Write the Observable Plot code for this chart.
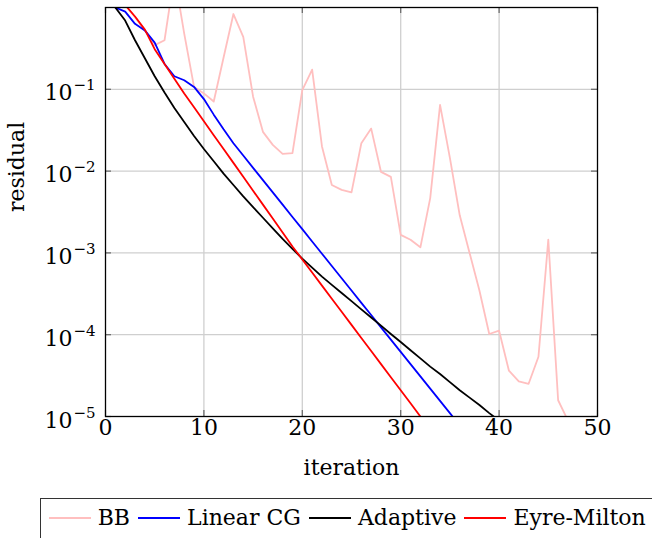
<!DOCTYPE html>
<html>
<head>
<meta charset="utf-8">
<script src="https://cdn.jsdelivr.net/npm/d3@7"></script>
<script src="https://cdn.jsdelivr.net/npm/@observablehq/plot@0.6"></script>
<style>
  html, body { margin: 0; padding: 0; background: #fff; }
  body { width: 652px; height: 538px; overflow: hidden; position: relative; font-family: "DejaVu Serif", serif; }
  #chart svg { display: block; }
  #legend { position: absolute; left: 40px; top: 498px; width: 680px; height: 70px; border: 1.3px solid #333;
            box-sizing: border-box; display: flex; align-items: flex-start; padding-left: 7.7px; padding-top: 8.1px; }
  .item { display: flex; align-items: flex-start; margin-right: 8px; }
  .sw { width: 42px; height: 2px; margin-top: 9.6px; margin-right: 7px; }
  .lb { font-family: "DejaVu Serif", serif; font-size: 22px; line-height: 22px; color: #000; white-space: nowrap; }
</style>
</head>
<body>
<div id="chart"></div>
<div id="legend"></div>
<script>
// ---- data ----
const seriesNames = ["BB", "Linear CG", "Adaptive", "Eyre-Milton"];
const seriesColors = ["#ffbfbf", "#0000ff", "#000000", "#ff0000"];

// residual per iteration, starting at iteration 1
const bbResidual = [1.778, 1.072, 0.759, 0.525, 0.347, 0.398, 2.51, 0.479, 0.107, 0.0891,
  0.0708, 0.245, 0.832, 0.437, 0.0813, 0.0302, 0.0209, 0.0162, 0.0166, 0.0977,
  0.174, 0.0200, 0.00676, 0.00589, 0.00550, 0.0219, 0.0331, 0.00977, 0.00851, 0.00166,
  0.00145, 0.00117, 0.00468, 0.0646, 0.0145, 0.00288, 0.00100, 3.47e-4, 1.02e-4, 1.12e-4,
  3.63e-5, 2.69e-5, 2.51e-5, 5.37e-5, 1.45e-3, 1.58e-5, 8.91e-6];

const cgResidual = [1.0, 0.891, 0.631, 0.525, 0.372, 0.204, 0.1445, 0.129, 0.107, 0.0759,
  0.0490, 0.0324, 0.0219, 0.0155, 0.01096, 0.00776, 0.00550, 0.00389, 0.00275, 0.00195,
  0.00138, 9.77e-4, 6.92e-4, 4.90e-4, 3.47e-4, 2.45e-4, 1.74e-4, 1.23e-4, 8.71e-5, 6.17e-5,
  4.37e-5, 3.09e-5, 2.19e-5, 1.55e-5, 1.10e-5, 7.76e-6];

const adaptiveResidual = [1.0, 0.692, 0.398, 0.240, 0.1445, 0.0912, 0.0589, 0.0398, 0.0269, 0.0186,
  0.0132, 0.00933, 0.00676, 0.00490, 0.00363, 0.00269, 0.00200, 0.00148, 0.00112, 8.51e-4,
  6.61e-4, 5.13e-4, 4.07e-4, 3.24e-4, 2.57e-4, 2.04e-4, 1.62e-4, 1.29e-4, 1.02e-4, 8.13e-5,
  6.46e-5, 5.13e-5, 4.07e-5, 3.31e-5, 2.63e-5, 2.09e-5, 1.70e-5, 1.38e-5, 1.10e-5, 8.91e-6];

const emResidual = [1.585, 1.072, 0.776, 0.537, 0.309, 0.204, 0.135, 0.0891, 0.0603, 0.0407,
  0.0275, 0.0186, 0.0126, 0.00851, 0.00575, 0.00389, 0.00263, 0.00178, 0.00120, 8.32e-4,
  5.75e-4, 3.98e-4, 2.75e-4, 1.91e-4, 1.32e-4, 9.12e-5, 6.31e-5, 4.37e-5, 3.02e-5, 2.09e-5,
  1.45e-5, 1.0e-5];

const xTickValues = [0, 10, 20, 30, 40, 50];
const xTickLabels = ["0", "10", "20", "30", "40", "50"];
const yTickValues = [1e-1, 1e-2, 1e-3, 1e-4, 1e-5];
const yTickExponents = ["\u22121", "\u22122", "\u22123", "\u22124", "\u22125"];
const xGridValues = [10, 20, 30, 40];
const yGridValues = [1e-1, 1e-2, 1e-3, 1e-4];

// ---- build table ----
const allSeries = [bbResidual, cgResidual, adaptiveResidual, emResidual];
const rows = allSeries.flatMap((vals, s) => vals.map((r, i) => ({series: seriesNames[s], it: i + 1, r})));

const frameW = 652 - 105 - 55;
const frameH = 490 - 7 - 74;
const tickLen = 6;
const FONT = "DejaVu Serif";

const lineMarks = seriesNames.map((name, s) =>
  Plot.line(rows.filter(d => d.series === name), {
    x: "it", y: "r", stroke: seriesColors[s], strokeWidth: 1.8, clip: true
  })
);

const chart = Plot.plot({
  width: 652,
  height: 490,
  marginLeft: 105,
  marginRight: 55,
  marginTop: 7,
  marginBottom: 74,
  x: {domain: [0, 50], axis: null},
  y: {type: "log", domain: [1e-5, 1], axis: null},
  style: {fontFamily: FONT, background: "white", color: "black"},
  marks: [
    Plot.ruleX(xGridValues, {stroke: "#cfcfcf", strokeWidth: 1.3}),
    Plot.ruleY(yGridValues, {stroke: "#cfcfcf", strokeWidth: 1.3}),
    // inward ticks on all four sides
    Plot.ruleX(xTickValues, {stroke: "#666", strokeWidth: 1.2, insetTop: frameH - tickLen}),
    Plot.ruleX(xTickValues, {stroke: "#666", strokeWidth: 1.2, insetBottom: frameH - tickLen}),
    Plot.ruleY(yTickValues, {stroke: "#666", strokeWidth: 1.2, insetRight: frameW - tickLen}),
    Plot.ruleY(yTickValues, {stroke: "#666", strokeWidth: 1.2, insetLeft: frameW - tickLen}),
    ...lineMarks,
    Plot.frame({stroke: "black", strokeWidth: 1.3}),
    // x tick labels
    Plot.text(xTickValues, {x: d => d, frameAnchor: "bottom", dy: 18.7, fontSize: 22, fontFamily: FONT,
      text: (d, i) => xTickLabels[i], fill: "black"}),
    // y tick labels: "10" with superscript exponent
    Plot.text(yTickValues, {y: d => d, frameAnchor: "left", dx: -33, dy: 4, fontSize: 22, fontFamily: FONT,
      textAnchor: "end", text: () => "10", fill: "black"}),
    Plot.text(yTickValues, {y: d => d, frameAnchor: "left", dx: -32, dy: -3.8, fontSize: 15, fontFamily: FONT,
      textAnchor: "start", text: (d, i) => yTickExponents[i], fill: "black"}),
    // axis labels
    Plot.text(["iteration"], {frameAnchor: "bottom", dy: 58, fontSize: 22, fontFamily: FONT, text: d => d, fill: "black"}),
    Plot.text(["residual"], {frameAnchor: "left", dx: -89, rotate: -90, fontSize: 22, fontFamily: FONT, text: d => d, fill: "black"})
  ]
});
document.getElementById("chart").appendChild(chart);

// ---- legend ----
const legend = document.getElementById("legend");
seriesNames.forEach((name, s) => {
  const item = document.createElement("div");
  item.className = "item";
  const sw = document.createElement("span");
  sw.className = "sw";
  sw.style.background = seriesColors[s];
  const lb = document.createElement("span");
  lb.className = "lb";
  lb.textContent = name;
  item.appendChild(sw);
  item.appendChild(lb);
  legend.appendChild(item);
});
</script>
</body>
</html>
